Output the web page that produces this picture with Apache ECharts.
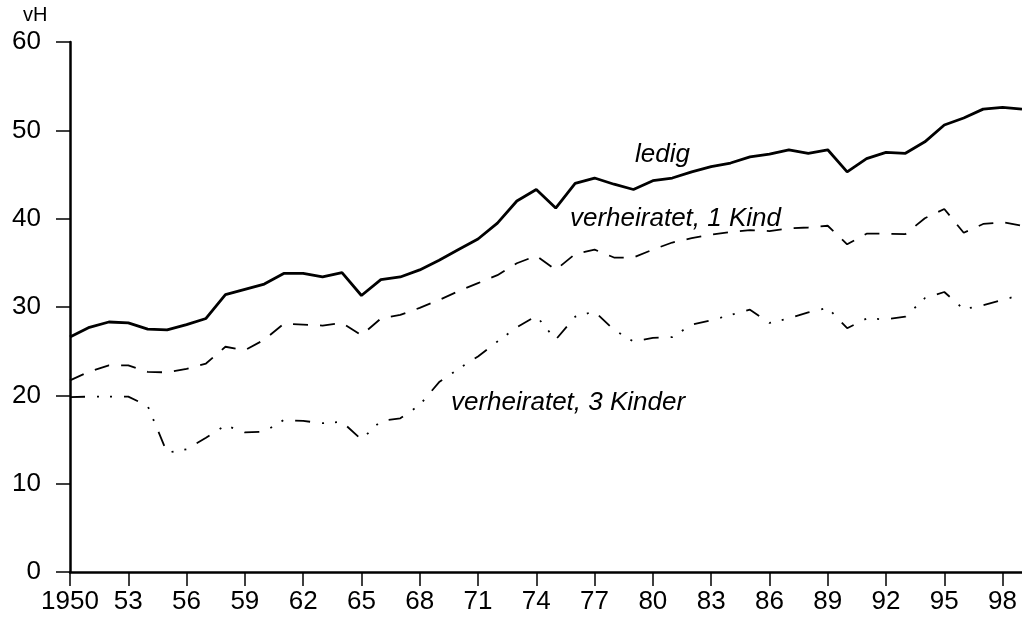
<!DOCTYPE html>
<html>
<head>
<meta charset="utf-8">
<script src="https://cdn.jsdelivr.net/npm/echarts@6/dist/echarts.min.js"></script>
<style>
html,body{margin:0;padding:0;background:#fff;}
#c{width:1022px;height:623px;}
</style>
</head>
<body>
<div id="c"></div>
<script>
const years = [1950,1951,1952,1953,1954,1955,1956,1957,1958,1959,
               1960,1961,1962,1963,1964,1965,1966,1967,1968,1969,
               1970,1971,1972,1973,1974,1975,1976,1977,1978,1979,
               1980,1981,1982,1983,1984,1985,1986,1987,1988,1989,
               1990,1991,1992,1993,1994,1995,1996,1997,1998,1999];

const ledig = [26.6,27.7,28.3,28.2,27.5,27.4,28.0,28.7,31.4,32.0,
               32.6,33.8,33.8,33.4,33.9,31.3,33.1,33.4,34.2,35.3,
               36.5,37.7,39.5,42.0,43.3,41.2,44.0,44.6,43.9,43.3,
               44.3,44.6,45.3,45.9,46.3,47.0,47.3,47.8,47.4,47.8,
               45.3,46.8,47.5,47.4,48.7,50.6,51.4,52.4,52.6,52.4];

const kind1 = [21.7,22.7,23.4,23.4,22.65,22.6,23.0,23.6,25.5,25.1,
               26.3,28.1,28.0,27.9,28.2,26.8,28.7,29.1,29.9,30.8,
               31.8,32.7,33.6,34.95,35.8,34.2,36.0,36.5,35.6,35.6,
               36.5,37.3,37.8,38.2,38.5,38.7,38.6,38.9,39.0,39.2,
               37.1,38.3,38.3,38.25,40.05,41.1,38.4,39.4,39.6,39.2];

const kinder3 = [19.8,19.85,19.85,19.85,18.8,13.5,13.9,15.2,16.6,15.8,
                 15.9,17.2,17.1,16.85,17.0,15.0,17.1,17.4,18.9,21.5,
                 23.0,24.4,26.1,27.7,29.0,26.3,28.9,29.5,27.4,26.1,
                 26.5,26.6,28.0,28.5,29.1,29.7,28.2,28.7,29.4,29.9,
                 27.6,28.7,28.6,28.9,31.0,31.7,29.75,30.2,30.8,31.4];

const seriesNames = ['ledig', 'verheiratet, 1 Kind', 'verheiratet, 3 Kinder'];
const yTicks = [0,10,20,30,40,50,60];
const yUnit = 'vH';

const FONT = '"Liberation Sans", Arial, Helvetica, sans-serif';

function pairs(vals){ return years.map((y,i)=>[y, vals[i]]); }

const chart = echarts.init(document.getElementById('c'), null, {renderer:'canvas'});
chart.setOption({
  backgroundColor:'#ffffff',
  animation:false,
  grid:{left:70, right:-5, top:42, bottom:51, containLabel:false},
  xAxis:{
    type:'value', min:1950, max:1999, interval:3,
    axisLine:{show:true, lineStyle:{color:'#000', width:2.5}},
    axisTick:{show:true, inside:false, length:14, lineStyle:{color:'#000', width:1.5}},
    splitLine:{show:false},
    axisLabel:{
      color:'#000', fontFamily:FONT, fontSize:26, margin:17,
      showMaxLabel:false,
      formatter:function(v){
        if ((v-1950)%3!==0 || v>1998) return '';
        return v===1950 ? '1950' : String(v).slice(2);
      }
    }
  },
  yAxis:{
    type:'value', min:yTicks[0], max:yTicks[yTicks.length-1], interval:10,
    axisLine:{show:true, lineStyle:{color:'#000', width:2.5}},
    axisTick:{show:true, inside:false, length:14, lineStyle:{color:'#000', width:1.5}},
    splitLine:{show:false},
    axisLabel:{color:'#000', fontFamily:FONT, fontSize:26, margin:29}
  },
  graphic:[
    {type:'text', left:23, top:5, style:{text:yUnit, font:'20px '+FONT, fill:'#000'}},
    {type:'text', x:635, y:155, style:{text:seriesNames[0], font:'italic 26px '+FONT, fill:'#000', verticalAlign:'middle'}},
    {type:'text', x:570, y:219, style:{text:seriesNames[1], font:'italic 26px '+FONT, fill:'#000', verticalAlign:'middle'}},
    {type:'text', x:451, y:403, style:{text:seriesNames[2], font:'italic 26px '+FONT, fill:'#000', verticalAlign:'middle'}}
  ],
  series:[
    {name:seriesNames[0], type:'line', data:pairs(ledig), showSymbol:false, symbol:'none',
     lineStyle:{color:'#000', width:2.8, type:'solid'}},
    {name:seriesNames[1], type:'line', data:pairs(kind1), showSymbol:false, symbol:'none',
     lineStyle:{color:'#000', width:1.8, type:[15,12]}},
    {name:seriesNames[2], type:'line', data:pairs(kinder3), showSymbol:false, symbol:'none',
     lineStyle:{color:'#000', width:1.8, type:[15,12,2,11,2,12]}}
  ]
});
</script>
</body>
</html>
